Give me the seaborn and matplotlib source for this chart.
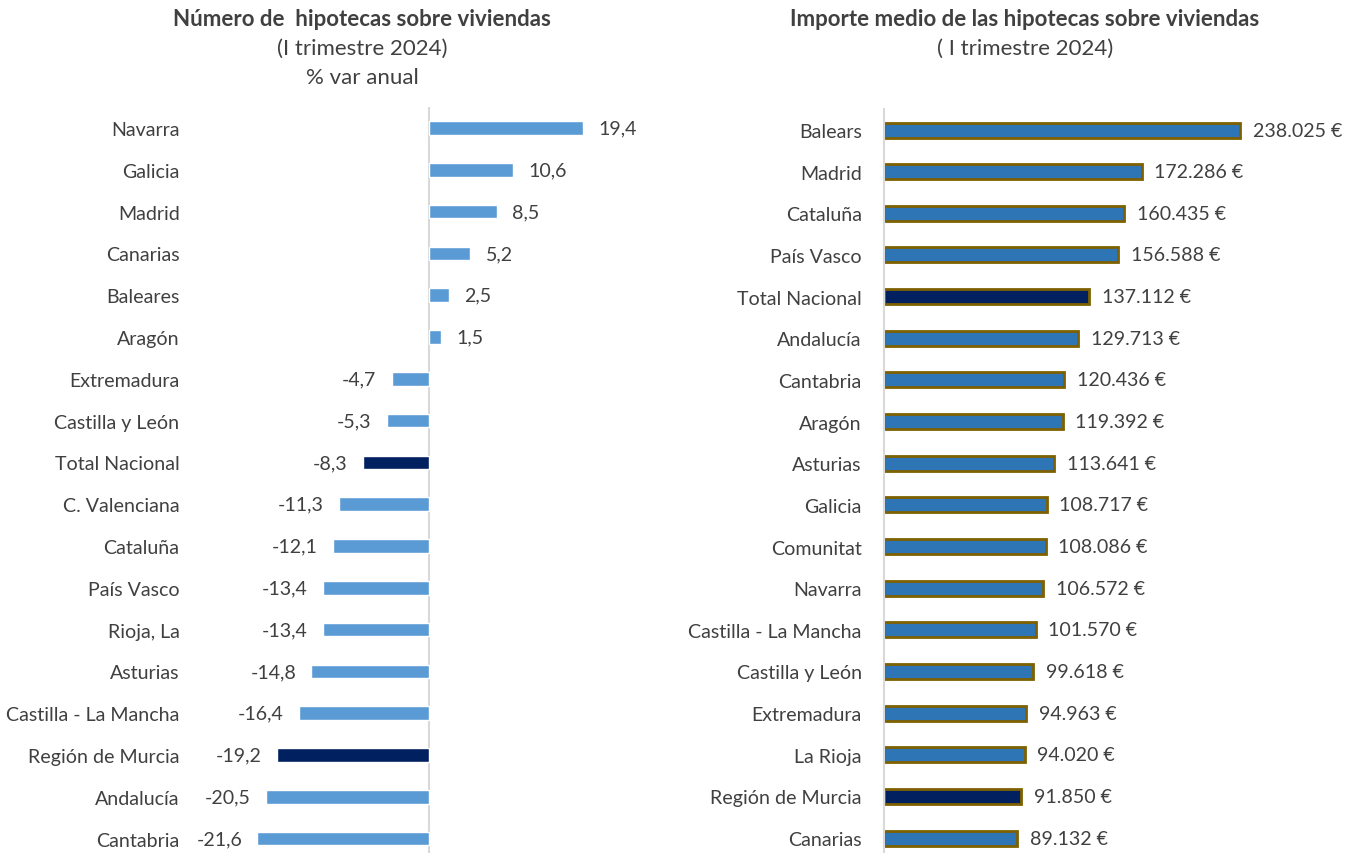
import matplotlib
matplotlib.use("Agg")
from matplotlib import pyplot as plt
import seaborn as sns

# left panel: number of mortgages, % annual change
var_regions = [
    "Navarra", "Galicia", "Madrid", "Canarias", "Baleares", "Aragón",
    "Extremadura", "Castilla y León", "Total Nacional", "C. Valenciana",
    "Cataluña", "País Vasco", "Rioja, La", "Asturias",
    "Castilla - La Mancha", "Región de Murcia", "Andalucía", "Cantabria",
]
var_values = [19.4, 10.6, 8.5, 5.2, 2.5, 1.5, -4.7, -5.3, -8.3, -11.3,
              -12.1, -13.4, -13.4, -14.8, -16.4, -19.2, -20.5, -21.6]

# right panel: average mortgage amount (euros)
amt_regions = [
    "Balears", "Madrid", "Cataluña", "País Vasco", "Total Nacional",
    "Andalucía", "Cantabria", "Aragón", "Asturias", "Galicia", "Comunitat",
    "Navarra", "Castilla - La Mancha", "Castilla y León", "Extremadura",
    "La Rioja", "Región de Murcia", "Canarias",
]
amt_values = [238025, 172286, 160435, 156588, 137112, 129713, 120436,
              119392, 113641, 108717, 108086, 106572, 101570, 99618,
              94963, 94020, 91850, 89132]

highlight = ["Total Nacional", "Región de Murcia"]
TXT = "#404040"
FS = 14.1
FS_TITLE = 16

sns.set_style("white")
plt.rcParams["font.family"] = ["Lato", "DejaVu Sans"]

W, H = 1360, 854
fig = plt.figure(figsize=(13.6, 8.54), dpi=100)


def px_rect(left, top, width, height):
    return [left / W, 1 - (top + height) / H, width / W, height / H]


def fmt_es(v, dec=1):
    s = f"{v:,.{dec}f}"
    return s.replace(",", "X").replace(".", ",").replace("X", ".")


# ---- left chart
ax1 = fig.add_axes(px_rect(250.35, 108.1, 349.4, 752.4))
pal1 = ["#002060" if r in highlight else "#5B9BD5" for r in var_regions]
sns.barplot(x=var_values, y=var_regions, hue=var_regions, palette=pal1,
            orient="h", width=0.33, legend=False, ax=ax1, saturation=1)
ax1.set_xlim(-22.5, 21.5)
ax1.set_ylim(17.5, -0.5)
ax1.axvline(0, color="#D9D9D9", lw=1.5, zorder=0)
for c, v in zip(ax1.containers, var_values):
    ax1.bar_label(c, labels=[fmt_es(v)], padding=11, fontsize=FS, color=TXT)
ax1.set_xticks([])
ax1.tick_params(axis="y", length=0, pad=51, labelsize=FS, labelcolor=TXT)
ax1.set_xlabel("")
ax1.set_ylabel("")
sns.despine(ax=ax1, left=True, bottom=True)

fig.text(362 / W, 1 - 20 / H, "Número de  hipotecas sobre viviendas",
         ha="center", va="center", fontsize=FS_TITLE, fontweight="bold",
         color=TXT)
fig.text(362 / W, 1 - 49 / H, "(I trimestre 2024)",
         ha="center", va="center", fontsize=FS_TITLE, color=TXT)
fig.text(362 / W, 1 - 78 / H, "% var anual",
         ha="center", va="center", fontsize=FS_TITLE, color=TXT)

# ---- right chart
ax2 = fig.add_axes(px_rect(884, 110.2, 389, 749.7))
pal2 = ["#002060" if r in highlight else "#2E75B6" for r in amt_regions]
sns.barplot(x=amt_values, y=amt_regions, hue=amt_regions, palette=pal2,
            orient="h", width=0.36, legend=False, ax=ax2, saturation=1,
            edgecolor="#7F6000", linewidth=2)
ax2.set_xlim(0, 260000)
ax2.set_ylim(17.5, -0.5)
for c, v in zip(ax2.containers, amt_values):
    ax2.bar_label(c, labels=[fmt_es(v, 0) + " €"], padding=9,
                  fontsize=FS, color=TXT)
ax2.set_xticks([])
ax2.tick_params(axis="y", length=0, pad=16, labelsize=FS, labelcolor=TXT)
ax2.set_xlabel("")
ax2.set_ylabel("")
sns.despine(ax=ax2, bottom=True)
ax2.spines["left"].set_color("#D9D9D9")
ax2.spines["left"].set_linewidth(1.5)

fig.text(1025 / W, 1 - 20 / H, "Importe medio de las hipotecas sobre viviendas",
         ha="center", va="center", fontsize=FS_TITLE, fontweight="bold",
         color=TXT)
fig.text(1025 / W, 1 - 49 / H, "( I trimestre 2024)",
         ha="center", va="center", fontsize=FS_TITLE, color=TXT)

fig.savefig("out.png", dpi=100)
